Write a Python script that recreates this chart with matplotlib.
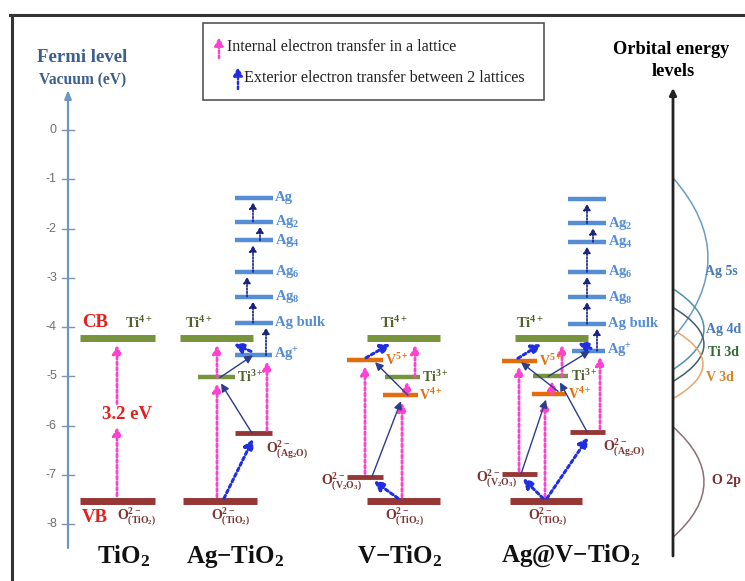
import matplotlib
matplotlib.use('Agg')
import matplotlib.pyplot as plt
from matplotlib.patches import Rectangle, PathPatch
from matplotlib.path import Path

plt.rcParams['font.family'] = ['Liberation Serif', 'DejaVu Serif']
plt.rcParams['mathtext.fontset'] = 'stix'
plt.rcParams['mathtext.default'] = 'regular'

W, H = 745, 581
Y0, PPE = 130, 49.3  # pixel row of 0 eV, pixels per eV

# ---- data: energies vs vacuum (eV) ----
ticks = [0, -1, -2, -3, -4, -5, -6, -7, -8]
samples = ['TiO$_2$', 'Ag\u2212TiO$_2$', 'V\u2212TiO$_2$', 'Ag@V\u2212TiO$_2$']

ti4 = -4.22          # CB, Ti4+
vb = -7.52           # VB, O2-(TiO2)
gap_text = '3.2 eV'

ag_names = ['Ag', 'Ag$_2$', 'Ag$_4$', 'Ag$_6$', 'Ag$_8$', 'Ag bulk']
ag_ladder_1 = [-1.37, -1.86, -2.24, -2.88, -3.38, -3.91]   # Ag-TiO2
ag_ladder_2 = [-1.40, -1.89, -2.27, -2.88, -3.39, -3.93]   # Ag@V-TiO2

# Ag-TiO2: Ti3+, Ag+, O2-(Ag2O)
agt_ti3, agt_agp, agt_oag = -5.02, -4.57, -6.15
# V-TiO2: V5+, Ti3+, V4+, O2-(V2O3)
vt_v5, vt_ti3, vt_v4, vt_ov = -4.67, -5.01, -5.38, -7.03
# Ag@V-TiO2
avt_v5, avt_ti3, avt_v4 = -4.68, -5.00, -5.35
avt_agp, avt_oag, avt_ov = -4.48, -6.12, -6.98

orbitals = ['Ag 5s', 'Ag 4d', 'Ti 3d', 'V 3d', 'O 2p']
orb_top = [-0.97, -3.22, -3.60, -4.05, -6.02]
orb_bottom = [-4.22, -4.86, -5.10, -5.45, -8.26]
orb_peak = [35, 31, 31, 30, 31]

# ---- colours ----
GREEN, BROWN, ORANGE, BLUE = '#77933c', '#953735', '#e46c0a', '#558ed5'
RED, OLIVE, OLAB = '#e3201b', '#4f6228', '#7f3434'
orb_colors = ['#6b9bc3', '#4f8fa8', '#3f5f6f', '#e8a56a', '#8a7070']
orb_text = ['#4a7ab5', '#4a7ab5', '#2d6a2d', '#d9822b', '#7a2e2e']

ARROWS = {
    'pink': dict(color='#ff40d0', lw=2.0, ls=(0, (1, 1)), hl=0.55, hw=0.28, ms=9),
    'blue': dict(color='#1f2fe0', lw=2.2, ls=(0, (1, 1)), hl=0.55, hw=0.3, ms=10),
    'thin': dict(color='#2b3d8c', lw=1.0, ls='-', hl=0.6, hw=0.3, ms=8),
    'ladder': dict(color='#1a237e', lw=1.2, ls=(0, (1, 1)), hl=0.6, hw=0.35, ms=6),
}

fig = plt.figure(figsize=(W / 100, H / 100), dpi=100)
ax = fig.add_axes([0, 0, 1, 1])
ax.set_xlim(0, W)
ax.set_ylim((Y0 - H) / PPE, Y0 / PPE)
ax.axis('off')


def fp(x, y):
    return x / W, 1 - y / H


def level(x0, x1, e, color, lw=3.2):
    ax.plot([x0, x1], [e, e], color=color, lw=lw, solid_capstyle='butt', zorder=3)


def arrow(x0, e0, x1, e1, kind):
    s = ARROWS[kind]
    ax.annotate('', xy=(x1, e1), xytext=(x0, e0), zorder=4,
                arrowprops=dict(arrowstyle=f"-|>,head_length={s['hl']},head_width={s['hw']}",
                                color=s['color'], lw=s['lw'], ls=s['ls'],
                                shrinkA=0, shrinkB=0, mutation_scale=s['ms']))


def label(x, e, s, color, size=9.5, ha='left', va='center', weight='bold'):
    ax.text(x, e, s, color=color, fontsize=size, ha=ha, va=va, fontweight=weight, zorder=5)


def olabel(x, e, sub, ha='left'):
    label(x, e, 'O$^{2-}_{(' + sub + ')}$', OLAB, size=10, ha=ha)


# ---- frame ----
ax.plot(*zip(fp(10, 15), fp(745, 15)), transform=ax.transAxes, color='#333333', lw=2.2)
ax.plot(*zip(fp(12, 15), fp(12, 581)), transform=ax.transAxes, color='#333333', lw=2.2)

# ---- legend box ----
ax.add_patch(Rectangle(fp(203, 100), 341 / W, 77 / H, transform=ax.transAxes,
                       fill=False, ec='#555555', lw=1.2))
for (x, y0, y1, kind, txt, tx, ty) in [
        (219, 58, 37, 'pink', 'Internal electron transfer in a lattice', 227, 47),
        (238, 89, 67, 'blue', 'Exterior electron transfer between 2 lattices', 244, 78)]:
    s = ARROWS[kind]
    ax.annotate('', xy=fp(x, y1), xytext=fp(x, y0), xycoords='axes fraction',
                arrowprops=dict(arrowstyle=f"-|>,head_length={s['hl']},head_width={s['hw']}",
                                color=s['color'], lw=1.8, ls=(0, (1, 1)),
                                shrinkA=0, shrinkB=0, mutation_scale=9))
    ax.text(*fp(tx, ty), txt, transform=ax.transAxes, fontsize=11.6, color='#222222',
            ha='left', va='center')

# ---- left energy axis ----
ax.text(*fp(82, 57), 'Fermi level', transform=ax.transAxes, fontsize=13.5,
        fontweight='bold', color='#3b5f8f', ha='center', va='center')
ax.text(*fp(83, 80), 'Vacuum (eV)', transform=ax.transAxes, fontsize=11.2,
        fontweight='bold', color='#3b5f8f', ha='center', va='center')
ax.annotate('', xy=(68, (Y0 - 90) / PPE), xytext=(68, (Y0 - 548) / PPE),
            arrowprops=dict(arrowstyle='-|>,head_length=0.5,head_width=0.2',
                            color='#6f97c6', lw=1.6, shrinkA=0, shrinkB=0, mutation_scale=10))
for t in ticks:
    ax.plot([62, 74], [t, t], color='#7f93ad', lw=1.0)
    ax.text(57, t, str(t), fontsize=9, color='#707070', ha='right', va='center',
            family='Liberation Sans')

# ---- TiO2 ----
level(80, 155, ti4, GREEN, 5)
level(80, 155, vb, BROWN, 5)
label(82, ti4 + 0.31, 'CB', RED, 13.5)
label(125, ti4 + 0.31, 'Ti$^{4+}$', OLIVE, 10.5)
label(82, vb - 0.33, 'VB', RED, 13.5)
olabel(117, vb - 0.33, 'TiO_2')
arrow(117, vb + 0.1, 117, -6.02, 'pink')
arrow(117, -5.55, 117, ti4 - 0.14, 'pink')
label(127, -5.78, gap_text, RED, 13.5, ha='center')

# ---- Ag-TiO2 ----
level(180, 253, ti4, GREEN, 5)
level(183, 257, vb, BROWN, 5)
level(198, 235, agt_ti3, GREEN)
level(235, 272, agt_agp, BLUE)
level(235, 272, agt_oag, BROWN, 3.5)
for e, n in zip(ag_ladder_1, ag_names):
    level(235, 273, e, BLUE)
    label(275, e, n, BLUE, 10.5)
label(185, ti4 + 0.31, 'Ti$^{4+}$', OLIVE, 10.5)
label(237, agt_ti3, 'Ti$^{3+}$', OLIVE, 10)
label(274, agt_agp, 'Ag$^{+}$', BLUE, 10.5)
olabel(211, vb - 0.33, 'TiO_2')
olabel(266, agt_oag - 0.33, 'Ag_2O')
arrow(217, vb + 0.08, 217, agt_ti3 - 0.12, 'pink')
arrow(217, agt_ti3, 217, ti4 - 0.14, 'pink')
arrow(267, agt_oag + 0.06, 267, agt_agp - 0.12, 'pink')
arrow(224, vb + 0.05, 253, agt_oag - 0.12, 'blue')
arrow(251, agt_agp + 0.08, 234, ti4 - 0.12, 'blue')
arrow(252, agt_oag, 221, agt_ti3 - 0.12, 'thin')
arrow(220, agt_ti3, 253, agt_agp, 'thin')
ladder_x1 = [253, 260, 253, 247, 253]
for i, x in enumerate(ladder_x1):
    arrow(x, ag_ladder_1[i + 1], x, ag_ladder_1[i] - 0.1, 'ladder')
arrow(266, agt_agp, 266, ag_ladder_1[-1] - 0.1, 'ladder')

# ---- V-TiO2 ----
level(367, 440, ti4, GREEN, 5)
level(367, 440, vb, BROWN, 5)
level(347, 383, vt_v5, ORANGE)
level(385, 420, vt_ti3, GREEN)
level(383, 418, vt_v4, ORANGE)
level(347, 383, vt_ov, BROWN, 3.5)
label(380, ti4 + 0.31, 'Ti$^{4+}$', OLIVE, 10.5)
label(385, vt_v5, 'V$^{5+}$', ORANGE, 10)
label(422, vt_ti3, 'Ti$^{3+}$', OLIVE, 10)
label(419, vt_v4, 'V$^{4+}$', ORANGE, 10)
olabel(321, vt_ov - 0.1, 'V_2O_3')
olabel(385, vb - 0.33, 'TiO_2')
arrow(365, vt_ov + 0.06, 365, vt_v5 - 0.12, 'pink')
arrow(402, vb + 0.08, 402, vt_v4 - 0.15, 'pink')
arrow(407, vt_v4, 407, vt_ti3 - 0.09, 'pink')
arrow(415, vt_ti3, 415, ti4 - 0.14, 'pink')
arrow(398, vb + 0.05, 374, vt_ov - 0.09, 'blue')
arrow(366, vt_v5 + 0.05, 390, ti4 - 0.12, 'blue')
arrow(372, vt_ov, 401, vt_v4 - 0.12, 'thin')
arrow(408, vt_v4, 375, vt_v5 - 0.04, 'thin')

# ---- Ag@V-TiO2 ----
level(515, 588, ti4, GREEN, 5)
level(510, 582, vb, BROWN, 5)
level(502, 537, avt_v5, ORANGE)
level(533, 568, avt_ti3, GREEN)
level(532, 566, avt_v4, ORANGE)
level(572, 605, avt_agp, BLUE)
level(570, 605, avt_oag, BROWN, 3.5)
level(502, 537, avt_ov, BROWN, 3.5)
for e, n in zip(ag_ladder_2, ag_names):
    level(568, 606, e, BLUE)
    if n != 'Ag':
        label(608, e, n, BLUE, 10.5)
label(516, ti4 + 0.31, 'Ti$^{4+}$', OLIVE, 10.5)
label(539, avt_v5, 'V$^{5+}$', ORANGE, 10)
label(571, avt_ti3, 'Ti$^{3+}$', OLIVE, 10)
label(568, avt_v4, 'V$^{4+}$', ORANGE, 10)
label(607, avt_agp, 'Ag$^{+}$', BLUE, 10.5)
olabel(603, avt_oag - 0.33, 'Ag_2O')
olabel(476, avt_ov - 0.1, 'V_2O_3')
olabel(528, vb - 0.33, 'TiO_2')
arrow(519, avt_ov + 0.06, 519, avt_v5 - 0.12, 'pink')
arrow(545, vb + 0.08, 545, avt_v4 - 0.15, 'pink')
arrow(552, avt_v4, 552, avt_ti3 - 0.09, 'pink')
arrow(562, avt_ti3, 562, ti4 - 0.14, 'pink')
arrow(600, avt_oag + 0.06, 600, avt_agp - 0.12, 'pink')
arrow(543, vb + 0.05, 523, avt_ov - 0.09, 'blue')
arrow(547, vb + 0.05, 588, avt_oag - 0.12, 'blue')
arrow(518, avt_v5 + 0.05, 541, ti4 - 0.12, 'blue')
arrow(591, avt_agp + 0.05, 578, ti4 - 0.1, 'blue')
arrow(521, avt_ov, 546, avt_v4 - 0.12, 'thin')
arrow(587, avt_oag, 560, avt_ti3 - 0.12, 'thin')
arrow(558, avt_v4 + 0.05, 521, avt_v5 - 0.03, 'thin')
arrow(548, avt_ti3, 590, avt_agp, 'thin')
ladder_x2 = [587, 593, 587, 587, 587]
for i, x in enumerate(ladder_x2):
    arrow(x, ag_ladder_2[i + 1], x, ag_ladder_2[i] - 0.1, 'ladder')
arrow(597, avt_agp, 597, ag_ladder_2[-1] - 0.1, 'ladder')

# ---- sample names ----
for x, s in zip([124, 235, 400, 571], samples):
    ax.text(x, (Y0 - 556) / PPE, s, fontsize=18, fontweight='bold', color='#111111',
            ha='center', va='center')

# ---- orbital energy panel ----
ax.text(*fp(671, 50), 'Orbital energy', transform=ax.transAxes, fontsize=13.2,
        fontweight='bold', ha='center', va='center')
ax.text(*fp(673, 72), 'levels', transform=ax.transAxes, fontsize=13.2,
        fontweight='bold', ha='center', va='center')
ax.annotate('', xy=(673, (Y0 - 88) / PPE), xytext=(673, (Y0 - 556) / PPE),
            arrowprops=dict(arrowstyle='-|>,head_length=0.4,head_width=0.2',
                            color='#222222', lw=2, shrinkA=0, shrinkB=0, mutation_scale=10))
for name, top, bot, pk, c in zip(orbitals, orb_top, orb_bottom, orb_peak, orb_colors):
    path = Path([(673, top), (673 + 2 * pk, (top + bot) / 2), (673, bot)],
                [Path.MOVETO, Path.CURVE3, Path.CURVE3])
    ax.add_patch(PathPatch(path, fc='none', ec=c, lw=1.1, zorder=2))
label(705, -2.87, 'Ag 5s', orb_text[0], 10)
label(706, -4.04, 'Ag 4d', orb_text[1], 10)
label(708, -4.52, 'Ti 3d', orb_text[2], 10)
label(706, -5.03, 'V 3d', orb_text[3], 10)
label(712, -7.1, 'O 2p', orb_text[4], 10)

fig.savefig('out.png', dpi=100)
